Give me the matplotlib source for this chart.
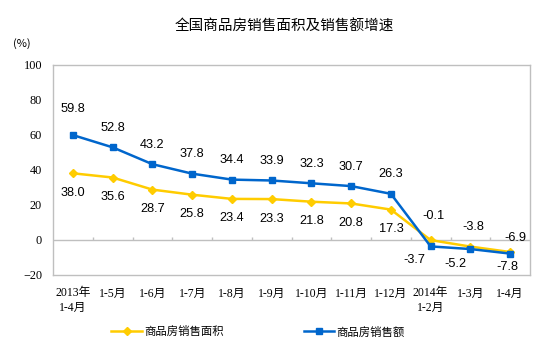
"""全国商品房销售面积及销售额增速 — recreated line chart."""

import matplotlib
matplotlib.use("Agg")
import matplotlib.pyplot as plt
import numpy as np

months = ["2013年\n1-4月", "1-5月", "1-6月", "1-7月", "1-8月", "1-9月",
          "1-10月", "1-11月", "1-12月", "2014年\n1-2月", "1-3月", "1-4月"]
area_growth = [38.0, 35.6, 28.7, 25.8, 23.4, 23.3, 21.8, 20.8, 17.3, -0.1, -3.8, -6.9]
sales_growth = [59.8, 52.8, 43.2, 37.8, 34.4, 33.9, 32.3, 30.7, 26.3, -3.7, -5.2, -7.8]

YELLOW = "#FFCC00"
BLUE = "#0066CC"
GRAY = "#BFBFBF"
CJK = ["Noto Sans CJK SC", "DejaVu Sans"]
SERIF = ["Liberation Serif", "Noto Sans CJK SC"]

# label offsets in points (dx, dy); yellow below / blue above except for 2014
area_off = [(0, -14)] * 9 + [(2, 17), (2, 14), (4, 10)]
sales_off = [(0, 14)] * 9 + [(-12, -10), (-11, -11), (-2, -10)]
sales_off[0] = (0, 19)


def main():
    fig = plt.figure(figsize=(5.54, 3.53), dpi=100)
    ax = fig.add_axes([0.0957, 0.221, 0.861, 0.596])

    x = np.arange(len(months))
    ax.plot(x, area_growth, color=YELLOW, lw=1.8, marker="D", ms=4.5,
            label="商品房销售面积", zorder=3)
    ax.plot(x, sales_growth, color=BLUE, lw=1.8, marker="s", ms=4.8,
            label="商品房销售额", zorder=3)

    for xi, v, (dx, dy) in zip(x, area_growth, area_off):
        ax.annotate(f"{v:.1f}", (xi, v), xytext=(dx, dy), textcoords="offset points",
                    ha="center", va="center", fontsize=9.2, family="Liberation Sans")
    for xi, v, (dx, dy) in zip(x, sales_growth, sales_off):
        ax.annotate(f"{v:.1f}", (xi, v), xytext=(dx, dy), textcoords="offset points",
                    ha="center", va="center", fontsize=9.2, family="Liberation Sans")

    # zero line with small category separators
    ax.axhline(0, color=GRAY, lw=1, zorder=1)
    ax.vlines(np.arange(0.5, len(months) - 1, 1), 0, 1.8, color=GRAY, lw=1, zorder=1)

    ax.set_xlim(-0.5, len(months) - 0.5)
    ax.set_ylim(-20, 100)
    ax.set_yticks(range(-20, 101, 20))
    ax.tick_params(axis="y", length=0, pad=8, labelsize=8.8)
    for t in ax.get_yticklabels():
        t.set_family("Liberation Serif")
    ax.set_xticks(x)
    ax.set_xticklabels(months, family=SERIF, fontsize=8.5, linespacing=1.25)
    ax.tick_params(axis="x", length=0, pad=9)
    for s in ax.spines.values():
        s.set_color(GRAY)
        s.set_linewidth(1)

    fig.text(0.514, 0.923, "全国商品房销售面积及销售额增速", ha="center", va="center",
             fontsize=10.5, family=CJK)
    fig.text(0.04, 0.878, "(%)", ha="center", va="center", fontsize=8, family=CJK)

    fig.legend(loc="center", bbox_to_anchor=(0.466, 0.06), ncol=2, frameon=False,
               prop={"family": CJK, "size": 8.2}, handlelength=2.7, handletextpad=0.2,
               columnspacing=7)

    fig.savefig("out.png", dpi=100)
    plt.close(fig)


if __name__ == "__main__":
    main()
